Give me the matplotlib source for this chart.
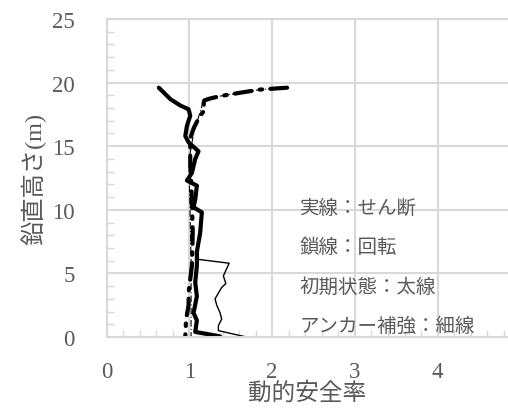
import matplotlib
matplotlib.use("Agg")
import matplotlib.pyplot as plt
from matplotlib.ticker import MultipleLocator

plt.rcParams['font.family'] = ['Liberation Serif', 'Noto Sans CJK JP']

# Initial state, shear (thick solid)
shear_init_x = [0.63, 0.77, 0.89, 0.99, 1.01, 0.97, 0.95, 0.99, 1.11, 1.07, 1.03, 0.97, 1.09,
                1.07, 1.05, 1.15, 1.13, 1.09, 1.09, 1.07, 1.09, 1.05, 1.09, 1.07, 1.37]
shear_init_h = [19.6, 18.7, 18.2, 17.9, 17.4, 16.6, 15.8, 15.3, 14.6, 14.0, 12.9, 12.3, 11.9,
                10.8, 10.2, 9.8, 8.2, 6.7, 5.6, 4.3, 3.2, 1.9, 1.3, 0.4, 0.05]

# Initial state, rotation (thick dash-dot)
rot_init_x = [2.18, 1.85, 1.61, 1.38, 1.25, 1.18, 1.17, 1.19, 1.12, 1.05, 1.01, 1.01, 1.03, 1.04, 1.03, 0.99, 0.99, 0.96, 0.95]
rot_init_h = [19.6, 19.45, 19.2, 18.95, 18.75, 18.6, 18.35, 17.9, 17.3, 16.4, 15.6, 13.5, 10.8, 8.2, 5.6, 3.5, 2.5, 1.4, 0.1]

# Anchor reinforcement, rotation (thin dash-dot)
rot_anchor_x = [2.18, 1.85, 1.61, 1.38, 1.25, 1.18, 1.16, 1.12, 1.05, 1.01, 1.00, 1.01, 1.02, 1.02, 1.02, 1.02]
rot_anchor_h = [19.6, 19.45, 19.2, 18.95, 18.75, 18.6, 18.35, 17.5, 16.0, 14.5, 12.0, 9.0, 6.0, 3.0, 1.0, 0.0]

# Anchor reinforcement, shear (thin solid)
shear_anchor_x = [1.09, 1.11, 1.48, 1.41, 1.44, 1.39, 1.31, 1.33, 1.37, 1.39, 1.35, 1.35, 1.69]
shear_anchor_h = [6.7, 6.1, 5.8, 4.8, 4.2, 3.9, 3.0, 2.5, 1.9, 1.4, 0.9, 0.5, 0.0]

notes = ['実線：せん断', '鎖線：回転', '初期状態：太線', 'アンカー補強：細線']
note_y = [10.2, 7.1, 4.0, 0.9]

grey = '#595959'
grid = '#d9d9d9'

fig = plt.figure(figsize=(5.08, 4.10), dpi=100)
ax = fig.add_axes([0.21, 0.1756, 0.79, 0.7756])

ax.plot(shear_anchor_x, shear_anchor_h, color='black', lw=1.0)
ax.plot(rot_anchor_x, rot_anchor_h, color='black', lw=0.8, dashes=(6, 2, 1, 2))
ax.plot(rot_init_x, rot_init_h, color='black', lw=3.0, dashes=(4, 2, 0.6, 2), dash_capstyle='round')
ax.plot(shear_init_x, shear_init_h, color='black', lw=3.0, solid_capstyle='round', solid_joinstyle='round')

for txt, yy in zip(notes, note_y):
    ax.text(2.33, yy, txt, fontsize=14, color=grey, va='center', ha='left')

ax.set_xlim(0, 4.85)
ax.set_ylim(0, 25)
ax.xaxis.set_major_locator(MultipleLocator(1))
ax.xaxis.set_minor_locator(MultipleLocator(0.2))
ax.yaxis.set_major_locator(MultipleLocator(5))
ax.yaxis.set_minor_locator(MultipleLocator(1))
ax.grid(True, which='major', color=grid, lw=1.5)
ax.set_axisbelow(True)

ax.tick_params(which='major', length=0, labelsize=16.5, labelcolor=grey)
ax.tick_params(axis='x', which='major', pad=17)
ax.tick_params(axis='y', which='major', pad=23)
ax.tick_params(which='minor', direction='in', length=5, width=1, color=grid)

for side in ['left', 'top', 'bottom']:
    ax.spines[side].set_color(grid)
    ax.spines[side].set_linewidth(1.5)
ax.spines['right'].set_visible(False)

ax.set_xlabel('動的安全率', fontsize=17, color=grey, labelpad=0)
ax.set_ylabel('鉛直高さ(m)', fontsize=17.5, color=grey, labelpad=4)

fig.savefig('out.png', dpi=100)
